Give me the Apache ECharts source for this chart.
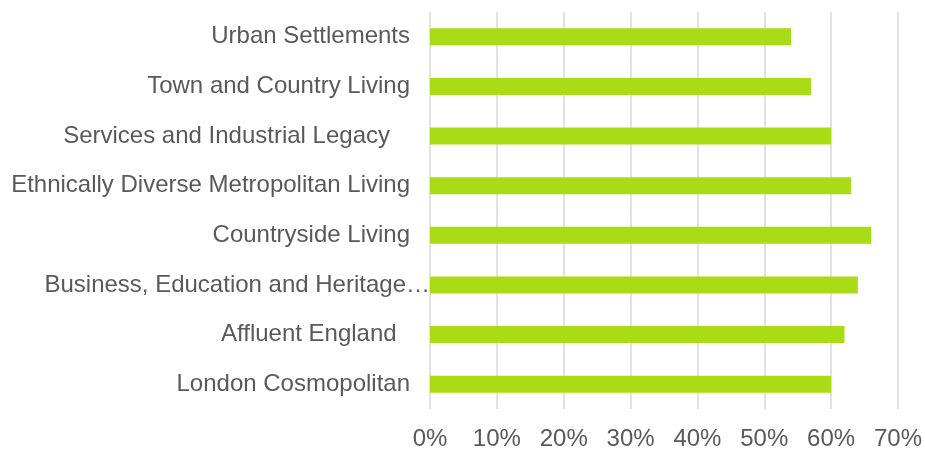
<!DOCTYPE html>
<html>
<head>
<meta charset="utf-8">
<script src="https://cdn.jsdelivr.net/npm/echarts@6/dist/echarts.min.js"></script>
<style>
  html, body { margin: 0; padding: 0; background: #ffffff; }
  #chart { width: 925px; height: 451px; }
</style>
</head>
<body>
<div id="chart"></div>
<script>
// Supergroup names, bottom to top (category axis order)
const categories = [
  'London Cosmopolitan',
  'Affluent England  ',
  'Business, Education and Heritage\u2026',
  'Countryside Living',
  'Ethnically Diverse Metropolitan Living',
  'Services and Industrial Legacy   ',
  'Town and Country Living',
  'Urban Settlements'
];

// Share for each supergroup (%)
const shares = [60, 62, 64, 66, 63, 60, 57, 54];

// Value axis range and ticks (%)
const axisMin = 0;
const axisMax = 70;
const axisStep = 10;

const TEXT = '#595959';
const FONT = '"Liberation Sans", Arial, sans-serif';

const chart = echarts.init(document.getElementById('chart'), null, { renderer: 'canvas' });

chart.setOption({
  backgroundColor: '#ffffff',
  animation: false,
  grid: { left: 430, right: 24, top: 12, height: 400, containLabel: false },
  xAxis: {
    type: 'value',
    min: axisMin,
    max: axisMax,
    interval: axisStep,
    axisLine: { show: false },
    axisTick: { show: false },
    splitLine: { show: true, lineStyle: { color: '#d9d9d9', width: 1.5 } },
    axisLabel: {
      color: TEXT,
      fontFamily: FONT,
      fontSize: 24,
      margin: 18,
      formatter: v => v + '%'
    }
  },
  yAxis: {
    type: 'category',
    data: categories,
    axisLine: { show: false },
    axisTick: { show: false },
    splitLine: { show: false },
    axisLabel: {
      color: TEXT,
      fontFamily: FONT,
      fontSize: 24,
      margin: 0,
      // the truncated label runs right up to the axis; the others sit 20px off it
      formatter: name => name.endsWith('\u2026') ? name : name + '{gap|}',
      rich: { gap: { width: 20 } }
    }
  },
  series: [{
    type: 'bar',
    data: shares,
    barWidth: 17,
    itemStyle: { color: '#a9dc14' },
    silent: true
  }]
});
</script>
</body>
</html>
